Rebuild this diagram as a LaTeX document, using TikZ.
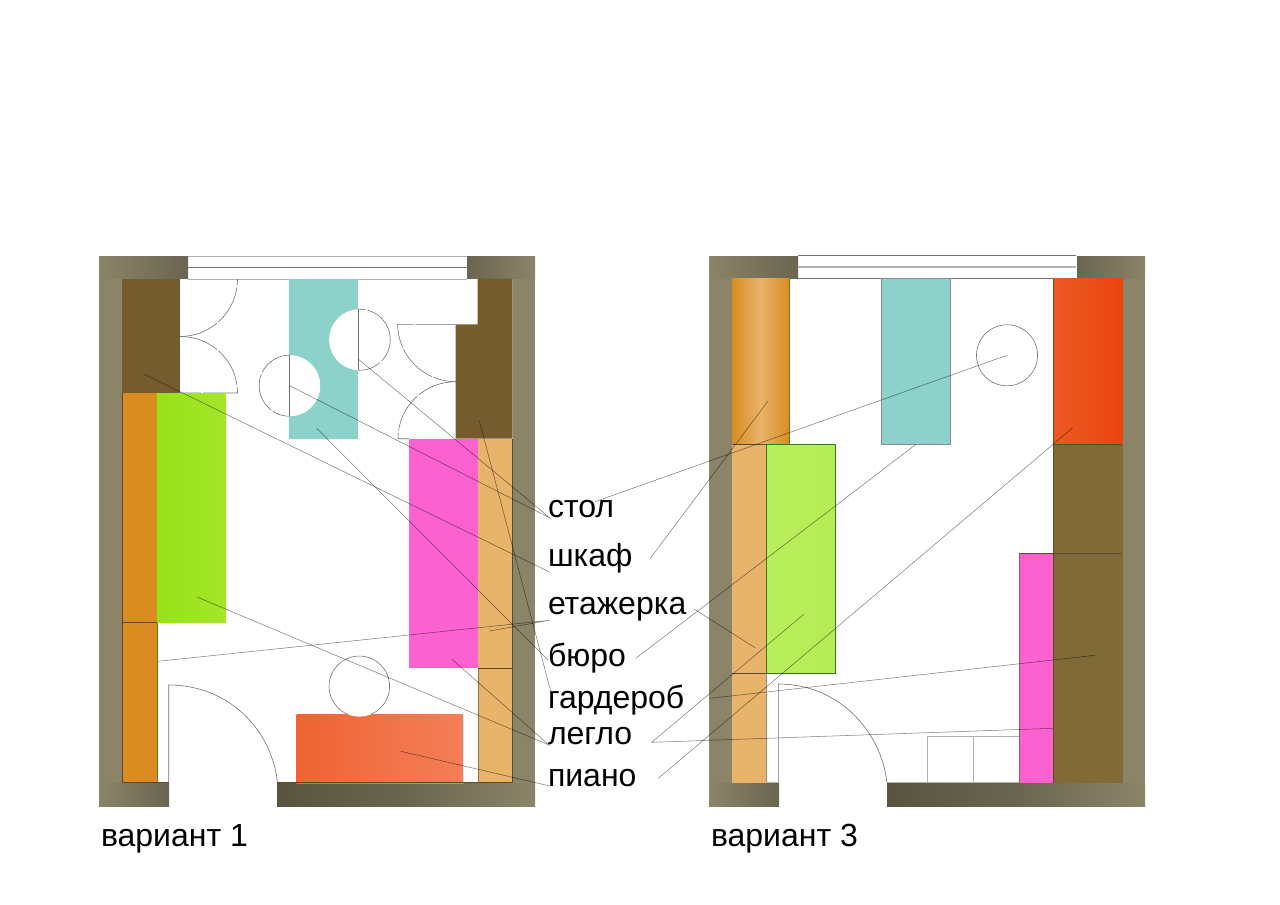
\documentclass[tikz,border=0pt]{standalone}
\usepackage{fontspec}
\setmainfont{Liberation Sans}
\definecolor{wallc}{HTML}{8B8468}
\definecolor{walld}{HTML}{6A6550}
\definecolor{wallk}{HTML}{595440}
\definecolor{brownc}{HTML}{755C2E}
\definecolor{brownr}{HTML}{806A36}
\definecolor{orangec}{HTML}{D98D20}
\definecolor{lorange}{HTML}{E8B36A}
\definecolor{tealc}{HTML}{8CD1CA}
\definecolor{magc}{HTML}{FB62CF}
\definecolor{greena}{HTML}{96E216}
\definecolor{greenb}{HTML}{A4E62B}
\definecolor{greenc}{HTML}{B9EE5C}
\definecolor{reda}{HTML}{EF6333}
\definecolor{redb}{HTML}{F47F58}
\definecolor{redc}{HTML}{EC5A22}
\definecolor{redd}{HTML}{EA4410}
\definecolor{edgec}{HTML}{5A4A25}
\tikzset{
  x=0.75pt,y=-0.75pt,
  thinline/.style={draw=black!55,line width=0.45pt},
  dashline/.style={draw=black!55,line width=0.45pt,dash pattern=on 30pt off 1.5pt},
  lineedge/.style={draw=edgec,line width=0.4pt},
  softedge/.style={draw=edgec,draw opacity=0.6,line width=0.4pt},
  leader/.style={draw=black,draw opacity=0.5,line width=0.4pt},
  label/.style={font=\fontsize{24pt}{26pt}\selectfont,anchor=base west,inner sep=0pt,outer sep=0pt,text=black},
  paneline/.style={draw=black!30,line width=0.6pt},
  panedark/.style={draw=black!55,line width=0.5pt},
}
\newcommand{\planwalls}[1]{%
  \begin{scope}[xshift=#1*0.75pt]
    \fill[wallc] (99,256) rectangle (122.3,806);
    \fill[wallc] (512.7,256) rectangle (535,806);
    \shade[left color=wallc,right color=walld] (99,256) rectangle (188,278);
    \shade[left color=walld,right color=wallc] (467,256) rectangle (535,278);
    \shade[left color=wallc,right color=walld] (99,783) rectangle (169,806);
    \shade[left color=wallk,right color=wallc,middle color=walld] (277,783) rectangle (535,806);
  \end{scope}}
\begin{document}
\begin{tikzpicture}
\useasboundingbox (0,0) rectangle (1280,904);
\fill[white] (0,0) rectangle (1280,904);
% ---------- variant 1 ----------
\planwalls{0}
\draw[paneline] (188.3,256) -- (466.7,256) (188.3,279) -- (466.7,279);
\draw[panedark] (188.3,267.7) -- (466.7,267.7);
% wardrobes
\fill[brownc] (122.3,278.5) rectangle (180,393);
\fill[brownc] (477.7,278.5) -- (512.7,278.5) -- (512.7,438.7) -- (455.7,438.7) -- (455.7,324.3) -- (477.7,324.3) -- cycle;
% doors of wardrobes
\draw[dashline] (180,336.5) .. controls (211.8,336.5) and (237.5,310.8) .. (237.5,279);
\draw[dashline] (180,336.5) .. controls (211.8,336.5) and (237.5,361.2) .. (237.5,393) -- (180,393);
\draw[dashline] (455.7,324.3) -- (397.7,324.3) .. controls (397.7,356) and (424,381.7) .. (455.7,381.7);
\draw[dashline] (455.7,381.7) .. controls (424,381.7) and (398,407) .. (398,438.7) -- (409,438.7);
% desk
\fill[tealc] (289.3,278.5) rectangle (358.3,438.7);
\fill[white] (359.7,339.7) circle[radius=22.9pt];
\fill[white] (289.7,385.7) circle[radius=22.9pt];
\begin{scope}
  \clip (358.3,300) rectangle (400,380);
  \draw[dashline] (359.7,339.7) circle[radius=22.9pt];
\end{scope}
\begin{scope}
  \clip (250,345) rectangle (289.3,425);
  \draw[dashline] (289.7,385.7) circle[radius=22.9pt];
\end{scope}
\draw[thinline] (358.3,309.3) -- (358.3,370);
\draw[thinline] (289.3,355.3) -- (289.3,416);
% bed & shelves
\fill[magc] (409,438.7) rectangle (478,668.3);
\fill[lorange] (478,438.7) rectangle (512.7,782.7);
\draw[lineedge] (478,668.3) -- (512.7,668.3);
\draw[softedge] (478,668.3) -- (478,782.7);
\draw[lineedge] (478,782.7) -- (512.7,782.7) -- (512.7,438.7);
\fill[orangec] (122.3,393) rectangle (157.5,782.7);
\draw[lineedge] (122.3,393) -- (122.3,782.7) -- (157.5,782.7);
\draw[lineedge] (122.3,622.5) -- (157.5,622.5);
\shade[left color=greena,right color=greenb] (157,393) rectangle (226,622.7);
\draw[softedge] (157.5,622.7) -- (157.5,782.7);
% piano
\shade[left color=reda,right color=redb] (296.7,714) rectangle (463,783);
\fill[white] (359.3,686.3) circle[radius=22.7pt];
\begin{scope}
  \clip (320,650) rectangle (400,713);
  \draw[thinline] (359.3,686.3) circle[radius=22.7pt];
\end{scope}
% entrance door
\draw[thinline] (168.7,782.7) -- (168.7,685) .. controls (229,685) and (272,730) .. (277.5,782.7);
\draw[lineedge] (157.5,782.7) -- (168.7,782.7) (277.3,782.7) -- (478,782.7);
% ---------- variant 3 ----------
\planwalls{610}
\draw[panedark] (797.7,255.5) -- (1076,255.5) (797.7,278.5) -- (1076,278.5);
\draw[paneline,line width=0.9pt] (797.7,267) -- (1076,267);
\fill[lorange] (732.3,444.3) rectangle (766.3,782.7);
\shade[left color=orangec,right color=orangec,middle color=lorange] (732.3,278.5) rectangle (789.3,444.3);
\draw[lineedge] (732.3,444.3) -- (789.3,444.3);
\draw[softedge] (789.3,278.5) -- (789.3,444.3);
\draw[lineedge] (732.3,673.3) -- (766.3,673.3);
\draw[softedge] (766.3,673.3) -- (766.3,782.7);
\draw[draw=black!45,line width=0.45pt,fill=tealc] (881.3,278.5) rectangle (950.3,444.3);
\draw[thinline] (1007,355.3) circle[radius=22.9pt];
\shade[left color=redc,right color=redd] (1053,278.5) rectangle (1122.7,444.3);
\fill[brownr] (1053,444.3) rectangle (1122.7,782.7);
\draw[lineedge] (1053,278.5) -- (1053,782.7) (1053,444.3) -- (1122.4,444.3) (1019,553.5) -- (1122.4,553.5);
\fill[magc] (1019,553.5) rectangle (1053,782.7);
\draw[lineedge] (1019,553.5) -- (1053,553.5) (1053,553.5) -- (1053,782.7);
\draw[softedge] (1019,553.5) -- (1019,782.7);
\shade[left color=greenc,right color=greenc!90!greena] (766.3,444.3) rectangle (835.7,673.3);
\draw[draw=green!30!black,draw opacity=.7,line width=0.45pt] (766.3,444.3) rectangle (835.7,673.3);
\draw[paneline] (927.3,782.7) -- (927.3,736.3) -- (1019,736.3) (973.3,736.3) -- (973.3,782.7);
\draw[thinline] (778.3,782.7) -- (778.3,684) .. controls (838,684) and (881,730) .. (886.9,782.7);
\draw[paneline] (886.9,782.7) -- (1019,782.7) (766.3,782.7) -- (778.3,782.7);
% ---------- labels ----------
\node[label] (lstol) at (548,517.3) {стол};
\node[label] (lshkaf) at (548,566) {шкаф};
\node[label] (letazh) at (548,614) {етажерка};
\node[label] (lbyuro) at (548,666) {бюро};
\node[label] (lgard) at (548,708.3) {гардероб};
\node[label] (llegl) at (548,744.3) {легло};
\node[label] (lpian) at (548,786) {пиано};
\node[label] (lv1) at (101,846) {вариант 1};
\node[label] (lv3) at (711,846) {вариант 3};
% ---------- leader ends ----------
\coordinate (sl) at (550,518);
\coordinate (sr) at (595,501.7);
\coordinate (sa) at (289.7,385.7);
\coordinate (sb) at (358.5,359.3);
\coordinate (sc) at (1007,355.3);
\coordinate (shl) at (550,572.3);
\coordinate (shr) at (650.3,558.3);
\coordinate (sha) at (144.3,374.3);
\coordinate (shb) at (768,401);
\coordinate (el) at (549.3,620.3);
\coordinate (er) at (694,609);
\coordinate (ea) at (157.7,661.3);
\coordinate (eb) at (489.3,631);
\coordinate (ec) at (755,647.7);
\coordinate (bl) at (548,660);
\coordinate (br) at (635.7,658.3);
\coordinate (ba) at (316.7,428.3);
\coordinate (bb) at (916,444.3);
\coordinate (gl) at (553,700);
\coordinate (gr) at (710,698.3);
\coordinate (ga) at (479.3,420.7);
\coordinate (gb) at (1095,655.3);
\coordinate (ll) at (549,745);
\coordinate (lr) at (651.7,742.3);
\coordinate (la) at (197,597);
\coordinate (lb) at (451.7,659);
\coordinate (lc) at (803.7,614.3);
\coordinate (ld) at (1053,728.3);
\coordinate (pl) at (550,786);
\coordinate (pr) at (658.3,778.3);
\coordinate (pa) at (401,751.3);
\coordinate (pb) at (1072.7,427.7);
% ---------- leaders ----------
\draw[leader] (sa) -- (sl) -- (sb);
\draw[leader] (sr) -- (sc);
\draw[leader] (sha) -- (shl);
\draw[leader] (shr) -- (shb);
\draw[leader] (ea) -- (el) -- (eb);
\draw[leader] (er) -- (ec);
\draw[leader] (ba) -- (bl);
\draw[leader] (br) -- (bb);
\draw[leader] (ga) -- (gl);
\draw[leader] (gr) -- (gb);
\draw[leader] (la) -- (ll) -- (lb);
\draw[leader] (lc) -- (lr) -- (ld);
\draw[leader] (pa) -- (pl);
\draw[leader] (pr) -- (pb);
\end{tikzpicture}
\end{document}
